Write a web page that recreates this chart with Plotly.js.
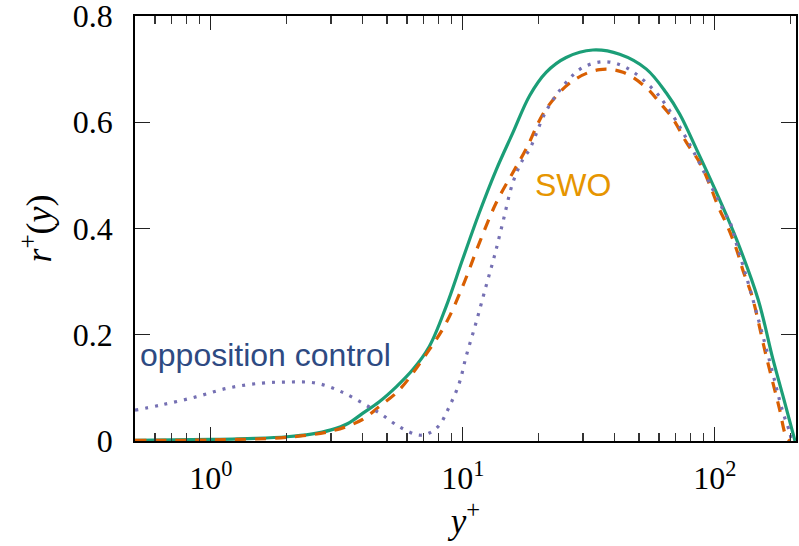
<!DOCTYPE html>
<html>
<head>
<meta charset="utf-8">
<script src="https://cdn.plot.ly/plotly-3.0.1.min.js"></script>
<style>
html,body{margin:0;padding:0;background:#fff;}
#wrap{position:relative;width:799px;height:546px;}
#chart,#ticks{position:absolute;left:0;top:0;width:799px;height:546px;}
#ticks{pointer-events:none;}
</style>
</head>
<body>
<div id="wrap"><div id="chart"></div><div id="ticks"></div></div>
<script>
// ---- data ----
const uncontrolledX = [0.5, 0.7, 1.0, 1.5, 2.0, 2.5, 3.0, 3.5, 4.0, 4.66, 5.44, 6.32, 7.36, 8.58, 9.98, 11.63, 13.55, 15.78, 18.4, 21.4, 25.7, 32.8, 41.9, 53.5, 64.2, 72.6, 84.6, 101.6, 122, 148.6, 170, 190, 208];
const uncontrolledY = [0.001, 0.002, 0.003, 0.005, 0.008, 0.013, 0.021, 0.033, 0.052, 0.074, 0.102, 0.134, 0.178, 0.253, 0.342, 0.43, 0.51, 0.58, 0.65, 0.694, 0.722, 0.736, 0.728, 0.70, 0.655, 0.615, 0.549, 0.467, 0.379, 0.266, 0.154, 0.07, 0.0];

const swoX = [0.5, 1.0, 2.0, 3.03, 3.98, 4.66, 5.59, 7.36, 8.58, 9.98, 11.63, 13.55, 15.78, 17.8, 21.4, 27.3, 34.9, 43.2, 53.5, 60.4, 68.3, 77.1, 87.1, 95.3, 103, 113, 122, 129.7, 140, 160, 180, 192, 199];
const swoY = [0.001, 0.002, 0.007, 0.019, 0.04, 0.065, 0.096, 0.172, 0.222, 0.291, 0.373, 0.448, 0.505, 0.549, 0.625, 0.678, 0.699, 0.694, 0.665, 0.637, 0.606, 0.562, 0.524, 0.483, 0.442, 0.401, 0.36, 0.319, 0.275, 0.159, 0.063, 0.008, 0.0];

const oppX = [0.5, 0.638, 0.872, 1.18, 1.595, 2.04, 2.615, 3.32, 4.25, 4.66, 5.59, 6.71, 7.36, 8.07, 8.84, 9.68, 10.3, 11.27, 12.35, 13.34, 14.4, 15.78, 17.3, 18.4, 21.4, 25.7, 29.9, 36.5, 44.5, 56.9, 64.2, 77.4, 98, 107.6, 115, 122, 138, 165, 186, 198.6, 201];
const oppY = [0.058, 0.068, 0.083, 0.100, 0.109, 0.111, 0.109, 0.092, 0.064, 0.053, 0.027, 0.011, 0.015, 0.030, 0.065, 0.109, 0.159, 0.222, 0.291, 0.348, 0.411, 0.486, 0.53, 0.549, 0.621, 0.675, 0.703, 0.714, 0.703, 0.662, 0.631, 0.568, 0.474, 0.436, 0.411, 0.37, 0.285, 0.15, 0.055, 0.015, 0.0];

const xTickVals = [1, 10, 100];
const xTickText = ['10<sup>0</sup>', '10<sup>1</sup>', '10<sup>2</sup>'];
const yTickVals = [0, 0.2, 0.4, 0.6, 0.8];
const yTickText = ['0', '0.2', '0.4', '0.6', '0.8'];

const serif = 'Liberation Serif';
const sans = 'Liberation Sans';
const xRange = [Math.log10(0.5), 2.322];
const yRange = [0, 0.8];
const plotMargin = {l: 135, r: 3, t: 16, b: 105};

// ---- main chart: curves, labels, titles, annotations ----
const traces = [
  {x: uncontrolledX, y: uncontrolledY, mode: 'lines', line: {color: '#1b9e77', width: 3.2, shape: 'spline', smoothing: 1}, hoverinfo: 'skip'},
  {x: swoX, y: swoY, mode: 'lines', line: {color: '#d95f02', width: 3.2, dash: '11px,9px', shape: 'spline', smoothing: 1}, hoverinfo: 'skip'},
  {x: oppX, y: oppY, mode: 'lines', line: {color: '#7570b3', width: 3.2, dash: '3px,7px', shape: 'spline', smoothing: 1}, hoverinfo: 'skip'}
];

const layout = {
  width: 799, height: 546,
  margin: plotMargin,
  showlegend: false,
  xaxis: {
    type: 'log', range: xRange,
    tickmode: 'array', tickvals: xTickVals, ticktext: xTickText,
    ticks: 'inside', ticklen: 14, tickwidth: 1.2, tickcolor: '#222',
    showline: true, linecolor: '#000', linewidth: 1.8, mirror: 'allticks',
    showgrid: false, zeroline: false,
    minor: {ticks: 'inside', ticklen: 8, tickwidth: 1.2, tickcolor: '#333', dtick: 'D1', showgrid: false},
    tickfont: {family: serif, size: 32, color: '#000'},
    ticklabelstandoff: 8,
    title: {text: '<i>y</i><sup>+</sup>', font: {family: serif, size: 35, color: '#000'}, standoff: 0}
  },
  yaxis: {
    range: yRange,
    tickmode: 'array', tickvals: yTickVals, ticktext: yTickText,
    ticks: 'inside', ticklen: 15, tickwidth: 1.2, tickcolor: '#222',
    showline: true, linecolor: '#000', linewidth: 1.8, mirror: 'allticks',
    showgrid: false, zeroline: false,
    tickfont: {family: serif, size: 32, color: '#000'},
    ticklabelstandoff: 14,
    ticklabeloverflow: 'allow',
    title: {text: '<i>r</i><sup>+</sup>(<i>y</i>)', font: {family: serif, size: 36, color: '#000'}, standoff: 10}
  },
  annotations: [
    {xref: 'paper', yref: 'paper', x: 0.005, y: 0.202, xanchor: 'left', yanchor: 'middle', showarrow: false,
     text: 'opposition control', font: {family: sans, size: 32, color: '#2e4a82'}},
    {xref: 'paper', yref: 'paper', x: 0.6626, y: 0.602, xanchor: 'center', yanchor: 'middle', showarrow: false,
     text: 'SWO', font: {family: sans, size: 32, color: '#e69500'}}
  ]
};

Plotly.newPlot('chart', traces, layout, {staticPlot: true, displayModeBar: false});

// ---- transparent overlay chart carrying only the frame ticks (same axes and ranges) ----
const tickTrace = [{x: oppX, y: oppY, mode: 'lines', line: {color: 'rgba(0,0,0,0)', width: 1}, hoverinfo: 'skip'}];
const tickLayout = {
  width: 799, height: 546,
  margin: plotMargin,
  showlegend: false,
  paper_bgcolor: 'rgba(0,0,0,0)', plot_bgcolor: 'rgba(0,0,0,0)',
  xaxis: {
    type: 'log', range: xRange,
    tickmode: 'array', tickvals: xTickVals, ticktext: ['a', 'b', 'c'],
    tickfont: {color: 'rgba(0,0,0,0)'},
    ticks: 'inside', ticklen: 14, tickwidth: 1.2, tickcolor: '#222',
    showline: true, linecolor: '#000', linewidth: 1.8, mirror: 'allticks',
    showgrid: false, zeroline: false,
    minor: {ticks: 'inside', ticklen: 8, tickwidth: 1.2, tickcolor: '#333', dtick: 'D1', showgrid: false}
  },
  yaxis: {
    range: yRange,
    tickmode: 'array', tickvals: yTickVals, ticktext: yTickText,
    tickfont: {color: 'rgba(0,0,0,0)'},
    ticks: 'inside', ticklen: 15, tickwidth: 1.2, tickcolor: '#222',
    showline: true, linecolor: '#000', linewidth: 1.8, mirror: 'allticks',
    showgrid: false, zeroline: false
  }
};
Plotly.newPlot('ticks', tickTrace, tickLayout, {staticPlot: true, displayModeBar: false});
</script>
</body>
</html>
